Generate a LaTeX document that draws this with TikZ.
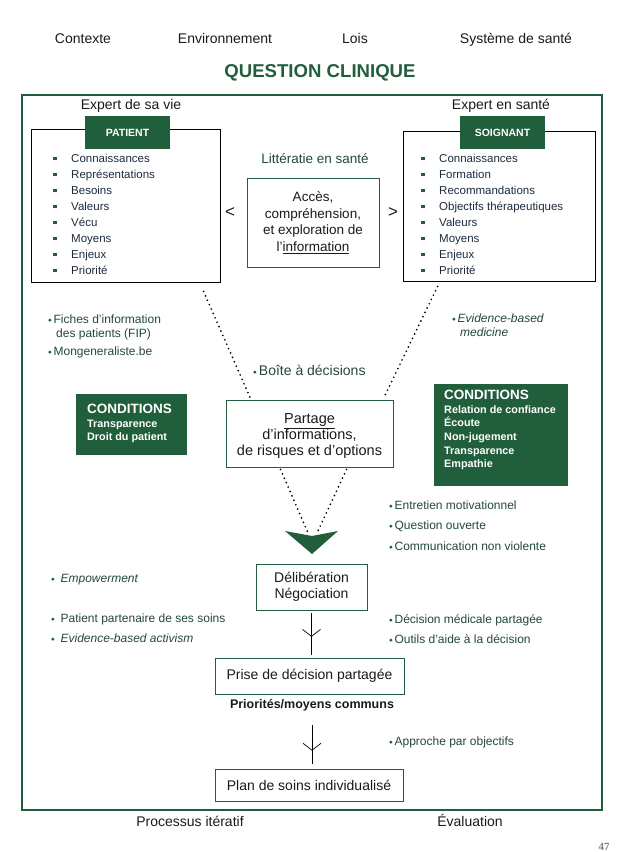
\documentclass[tikz,border=0pt]{standalone}
\usepackage{fontspec}
\setmainfont{Liberation Sans}
\newfontfamily\numfont{Liberation Serif}
\usetikzlibrary{calc,arrows.meta,decorations.markings}
\definecolor{dgreen}{HTML}{215E3C}
\definecolor{notec}{HTML}{24473C}
\definecolor{itemc}{HTML}{1C2B3C}
\definecolor{inkc}{HTML}{1A1A1A}
\newcommand{\fsz}[2]{\fontsize{#1}{#2}\selectfont}
\newcommand{\gdot}{\tikz[baseline=-3.2pt]\fill[dgreen] (0,0) circle (1.7pt);}
\newcommand{\gsq}{{\color{dgreen}\rule[0.25ex]{3.5pt}{3.5pt}}}

\begin{document}
\begin{tikzpicture}[x=1pt,y=-1pt,
box/.style={draw=dgreen,line width=0.9pt,rectangle,align=center,text=inkc,inner sep=0pt,font=\fsz{14}{16.5}},
bbox/.style={draw=black,line width=0.9pt,rectangle,inner sep=0pt},
head/.style={fill=dgreen,text=white,font=\bfseries\fsz{10.5}{12},inner sep=0pt,minimum width=85pt,minimum height=33pt},
cond/.style={fill=dgreen,rectangle,inner sep=0pt},
ctext/.style={anchor=north west,text=white,align=left,inner sep=0pt,font=\bfseries\fsz{10.8}{13.6}},
lbl/.style={text=inkc,font=\fsz{14}{16},text height=10pt,text depth=3pt},
item/.style={anchor=base west,yshift=-4pt,text=itemc,font=\fsz{11.5}{13},inner sep=0pt},
note/.style={anchor=base west,yshift=-4.3pt,text=notec,font=\fsz{12}{14},inner sep=0pt},
dots/.style={line width=1.9pt,dash pattern=on 0pt off 4.8pt,line cap=round},
flow/.style={line width=0.7pt,postaction={decorate},decoration={markings,mark=at position #1 with {\arrow{Straight Barb[length=7pt,width=18pt,line width=0.7pt]}}}}]
	\useasboundingbox (0,0) rectangle (621,852);

	\node[lbl] at (83,40) (c1) {Contexte};
	\node[lbl] at (225,40) (c2) {Environnement};
	\node[lbl] at (355,40) (c3) {Lois};
	\node[lbl] at (516,40) (c4) {Système de santé};
	\node[text=dgreen,font=\bfseries\fsz{18.6}{20}] at (320,73) (qc) {QUESTION CLINIQUE};
	\draw[dgreen,line width=2.8pt] (22,95) rectangle (602,810);

	% patient et soignant
	\node[lbl] at (131,106) (ev) {Expert de sa vie};
	\node[lbl] at (501,106) (es) {Expert en santé};
	\node[bbox,minimum width=189pt,minimum height=153pt] at (125.5,205.5) (pt) {};
	\node[bbox,minimum width=192pt,minimum height=150pt] at (499,206) (sg) {};
	\node[head] at (127.5,132.5) (ph) {PATIENT};
	\node[head] at (502.5,132.5) (sh1) {SOIGNANT};
	\foreach \t [count=\i] in {Connaissances,Représentations,Besoins,Valeurs,Vécu,Moyens,Enjeux,Priorité}
		\node[item] at (53,142+16*\i) (pi\i) {\gsq\hspace{14.5pt}\t};
	\foreach \t [count=\i] in {Connaissances,Formation,Recommandations,Objectifs thérapeutiques,Valeurs,Moyens,Enjeux,Priorité}
		\node[item] at (421,142+16*\i) (si\i) {\gsq\hspace{14.5pt}\t};

	% information
	\node[text=notec,font=\fsz{13.5}{16}] at (315,159) (lit) {Littératie en santé};
	\node[box,minimum width=132pt,minimum height=89pt,font=\fsz{13.5}{16.7}] at (313,222.5) (ac) {Accès,\\compréhension,\\et exploration de\\l'\underline{information}};
	\node[lbl,font=\fsz{17}{18}] at (230,214) (lt) {<};
	\node[lbl,font=\fsz{17}{18}] at (393,214) (gt) {>};
	\node[box,minimum width=167pt,minimum height=67pt] at (309.5,433.5) (sh) {};
	\node[align=center,text=inkc,inner sep=0pt,font=\fsz{14.5}{16}] at ([yshift=-3pt]sh.center) (sht) {\underline{Partage}\\d’informations,\\de risques et d’options};
	\node[note,font=\fsz{14}{16},yshift=-1pt] at (253,370) (bd) {\gdot\,Boîte à décisions};

	\node[note] at (48,319) (n1) {\gdot\,Fiches d'information};
	\node[note] at (56,333) (n1b) {des patients (FIP)};
	\node[note] at (48,351) (n2) {\gdot\,Mongeneraliste.be};
	\node[note] at (452,318) (n3) {\gdot\,\textit{Evidence-based}};
	\node[note] at (460,332) (n3b) {\textit{medicine}};

	% conditions
	\node[cond,minimum width=111pt,minimum height=61pt] at (131.5,424.5) (cl) {};
	\node[ctext] at (87,404) (clt) {{\fsz{13.5}{15}CONDITIONS}\\Transparence\\Droit du patient};
	\node[cond,minimum width=134pt,minimum height=102pt] at (501,435) (cr) {};
	\node[ctext] at (444,390) (crt) {{\fsz{13.5}{15}CONDITIONS}\\Relation de confiance\\Écoute\\Non-jugement\\Transparence\\Empathie};

	\node[note] at (389,505) (n4) {\gdot\,Entretien motivationnel};
	\node[note] at (389,525) (n5) {\gdot\,Question ouverte};
	\node[note] at (389,546) (n6) {\gdot\,Communication non violente};

	% entonnoir
	\coordinate (a1) at ([xshift=173pt,yshift=-9pt]pt.south west);
	\coordinate (a2) at ([xshift=25pt,yshift=1pt]sh.north west);
	\coordinate (a3) at ([xshift=35pt,yshift=-5pt]sg.south west);
	\coordinate (a4) at ([xshift=-10pt,yshift=1pt]sh.north east);
	\coordinate (a5) at ([xshift=55pt,yshift=-2pt]sh.south west);
	\coordinate (a6) at ([xshift=121pt,yshift=-2pt]sh.south west);
	\coordinate (tip) at (312,531);
	\fill[dgreen] ([xshift=-27pt]tip) -- ([yshift=-5pt]tip) -- ([xshift=26pt]tip) -- ([yshift=-23pt]tip) -- cycle;
	\draw[dots] (a1) -- (a2);
	\draw[dots] (a3) -- (a4);
	\draw[dots] (a5) -- ([xshift=-4pt,yshift=-2pt]tip);
	\draw[dots] (a6) -- ([xshift=5pt,yshift=-2pt]tip);

	% decision
	\node[box,minimum width=111pt,minimum height=46pt] at (311.5,587) (dl) {Délibération\\Négociation};
	\node[note] at (51,578) (n7) {\gdot\hspace{6pt}\textit{Empowerment}};
	\node[note] at (51,618) (n8) {\gdot\hspace{6pt}Patient partenaire de ses soins};
	\node[note] at (51,638) (n9) {\gdot\hspace{6pt}\textit{Evidence-based activism}};
	\node[note] at (389,619) (n10) {\gdot\,Décision médicale partagée};
	\node[note] at (389,639) (n11) {\gdot\,Outils d'aide à la décision};
	\node[box,minimum width=189pt,minimum height=36pt] at (309.5,676) (pr) {Prise de décision partagée};
	\node[text=inkc,font=\bfseries\fsz{12.5}{14}] at (312,705) (pm) {Priorités/moyens communs};
	\node[note] at (389,741) (n12) {\gdot\,Approche par objectifs};
	\node[box,minimum width=188pt,minimum height=32pt] at (309,785) (pl) {Plan de soins individualisé};

	\draw[flow=0.56,shorten <=3pt,shorten >=3pt] (dl.south) -- (dl.south |- pr.north);
	\draw[flow=0.67,shorten <=11pt,shorten >=5pt] (pm.south) -- (pm.south |- pl.north);

	\node[lbl] at (190,823) (it) {Processus itératif};
	\node[lbl] at (470,823) (evl) {Évaluation};
	\node[text=gray,font=\numfont\bfseries\fsz{11}{12}] at (604,847) (pg) {47};
\end{tikzpicture}
\end{document}
